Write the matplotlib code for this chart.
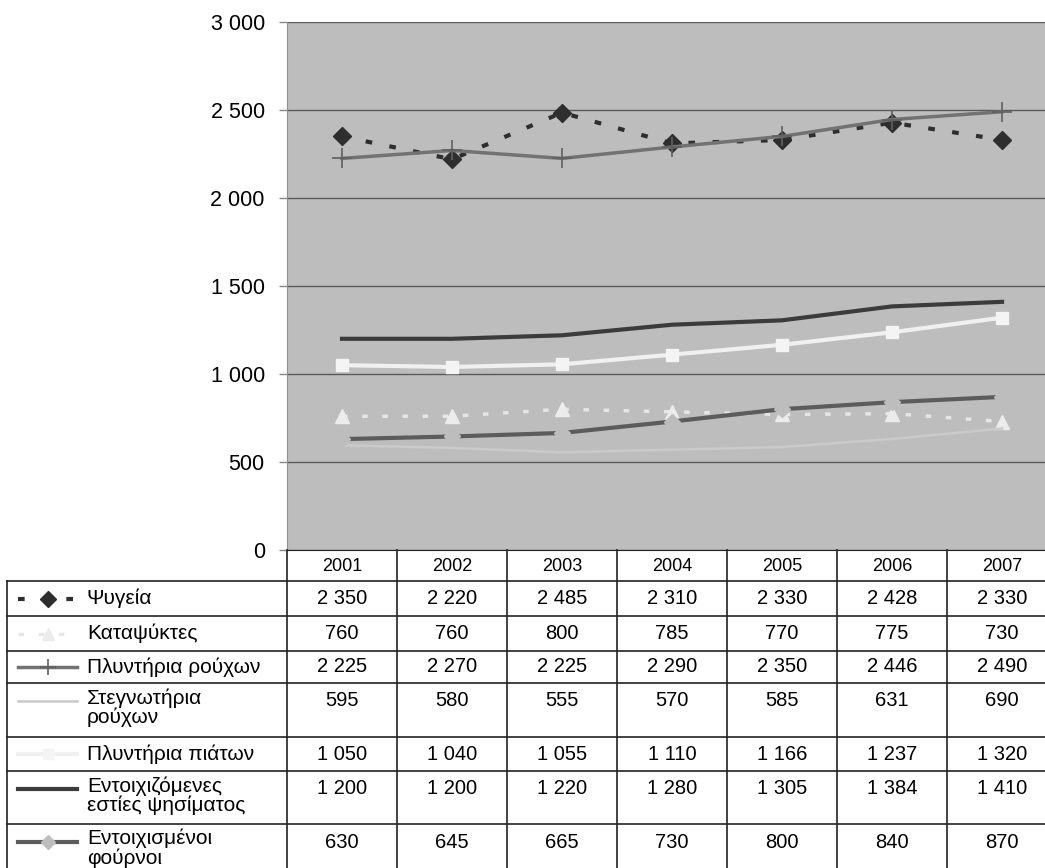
import matplotlib
matplotlib.use("Agg")
import matplotlib.pyplot as plt

plt.rcParams["font.family"] = ["Liberation Sans", "DejaVu Sans"]

# ---- data -------------------------------------------------------------
years = ["2001", "2002", "2003", "2004", "2005", "2006", "2007"]

row_labels = [
    "Ψυγεία",
    "Καταψύκτες",
    "Πλυντήρια ρούχων",
    "Στεγνωτήρια\nρούχων",
    "Πλυντήρια πιάτων",
    "Εντοιχιζόμενες\nεστίες ψησίματος",
    "Εντοιχισμένοι\nφούρνοι",
]

fridges = [2350, 2220, 2485, 2310, 2330, 2428, 2330]
freezers = [760, 760, 800, 785, 770, 775, 730]
washing_machines = [2225, 2270, 2225, 2290, 2350, 2446, 2490]
dryers = [595, 580, 555, 570, 585, 631, 690]
dishwashers = [1050, 1040, 1055, 1110, 1166, 1237, 1320]
built_in_hobs = [1200, 1200, 1220, 1280, 1305, 1384, 1410]
built_in_ovens = [630, 645, 665, 730, 800, 840, 870]

y_ticks = [0, 500, 1000, 1500, 2000, 2500, 3000]

series = [fridges, freezers, washing_machines, dryers,
          dishwashers, built_in_hobs, built_in_ovens]

# ---- styling ----------------------------------------------------------
BG = "#bdbdbd"
styles = [
    dict(color="#2e2e2e", lw=3.0, ls=(0, (1.6, 4.2)), marker="D", ms=9,
         mfc="#2e2e2e", mec="#2e2e2e", solid_capstyle="butt"),
    dict(color="#e6e6e6", lw=2.5, ls=(0, (1.6, 4.2)), marker="^", ms=10,
         mfc="#ececec", mec="#ececec"),
    dict(color="#727272", lw=2.5, ls="-", marker="+", ms=14, mew=1.2,
         mfc="#606060", mec="#606060"),
    dict(color="#cacaca", lw=1.8, ls="-", marker="None"),
    dict(color="#f0f0f0", lw=3.0, ls="-", marker="s", ms=9,
         mfc="#f4f4f4", mec="#f4f4f4"),
    dict(color="#3c3c3c", lw=3.0, ls="-", marker="None"),
    dict(color="#5c5c5c", lw=3.0, ls="-", marker="D", ms=8,
         mfc=BG, mec=BG),
]


def fmt(v):
    return f"{v:,}".replace(",", " ")


W, H = 1045, 868
fig = plt.figure(figsize=(W / 100, H / 100), dpi=100)

# plot area geometry (pixels)
L, R, T, B = 287, 1057, 22, 550
ax = fig.add_axes([L / W, 1 - B / H, (R - L) / W, (B - T) / H])
ax.set_facecolor(BG)
ax.set_xlim(-0.5, len(years) - 0.5)
ax.set_ylim(0, 3000)
ax.set_yticks(y_ticks)
ax.set_yticklabels([fmt(v) for v in y_ticks], fontsize=15.5)
ax.set_xticks([])
ax.grid(axis="y", color="#5a5a5a", lw=1.0)
ax.set_axisbelow(True)
for side in ("top", "right"):
    ax.spines[side].set_visible(False)
ax.spines["left"].set_color("#909090")
ax.spines["bottom"].set_color("#222222")
ax.tick_params(axis="y", length=6, width=1, color="#888888", pad=10)

x = list(range(len(years)))
for vals, st in zip(series, styles):
    ax.plot(x, vals, **st)

# ---- data table below the plot ----------------------------------------
tx = fig.add_axes([0, 0, 1, 1])
tx.set_xlim(0, W)
tx.set_ylim(H, 0)
tx.axis("off")
tx.patch.set_visible(False)

col_w = (R - L) / len(years)
col_edges = [L + i * col_w for i in range(len(years) + 1)]
row_edges = [550, 581, 616, 651, 683, 737, 771, 824, 878]
LEFT = 7
line_kw = dict(color="#222222", lw=1.2)

# header row (years)
for i, yr in enumerate(years):
    cx = (col_edges[i] + col_edges[i + 1]) / 2
    tx.text(cx, (row_edges[0] + row_edges[1]) / 2 + 1, yr,
            ha="center", va="center", fontsize=13)

for xe in col_edges:
    tx.plot([xe, xe], [row_edges[0], row_edges[-1]], **line_kw)
tx.plot([LEFT, LEFT], [row_edges[1], row_edges[-1]], **line_kw)
for ye in row_edges[1:]:
    tx.plot([LEFT, W], [ye, ye], **line_kw)

for r, (label, vals, st) in enumerate(zip(row_labels, series, styles)):
    top, bot = row_edges[r + 1], row_edges[r + 2]
    if "\n" in label:
        y_line = top + 18
        tx.text(87, top + 5, label, ha="left", va="top", fontsize=15,
                linespacing=1.02)
    else:
        y_line = (top + bot) / 2
        tx.text(87, y_line, label, ha="left", va="center", fontsize=15)
    # legend key
    key = dict(st)
    key["ms"] = key.get("ms", 0) * 0.85
    tx.plot([18, 47.5, 77], [y_line] * 3, markevery=[1], **key)
    for i, v in enumerate(vals):
        cx = (col_edges[i] + col_edges[i + 1]) / 2
        tx.text(cx, y_line, fmt(v), ha="center", va="center", fontsize=14.5)

fig.savefig("out.png", dpi=100)
